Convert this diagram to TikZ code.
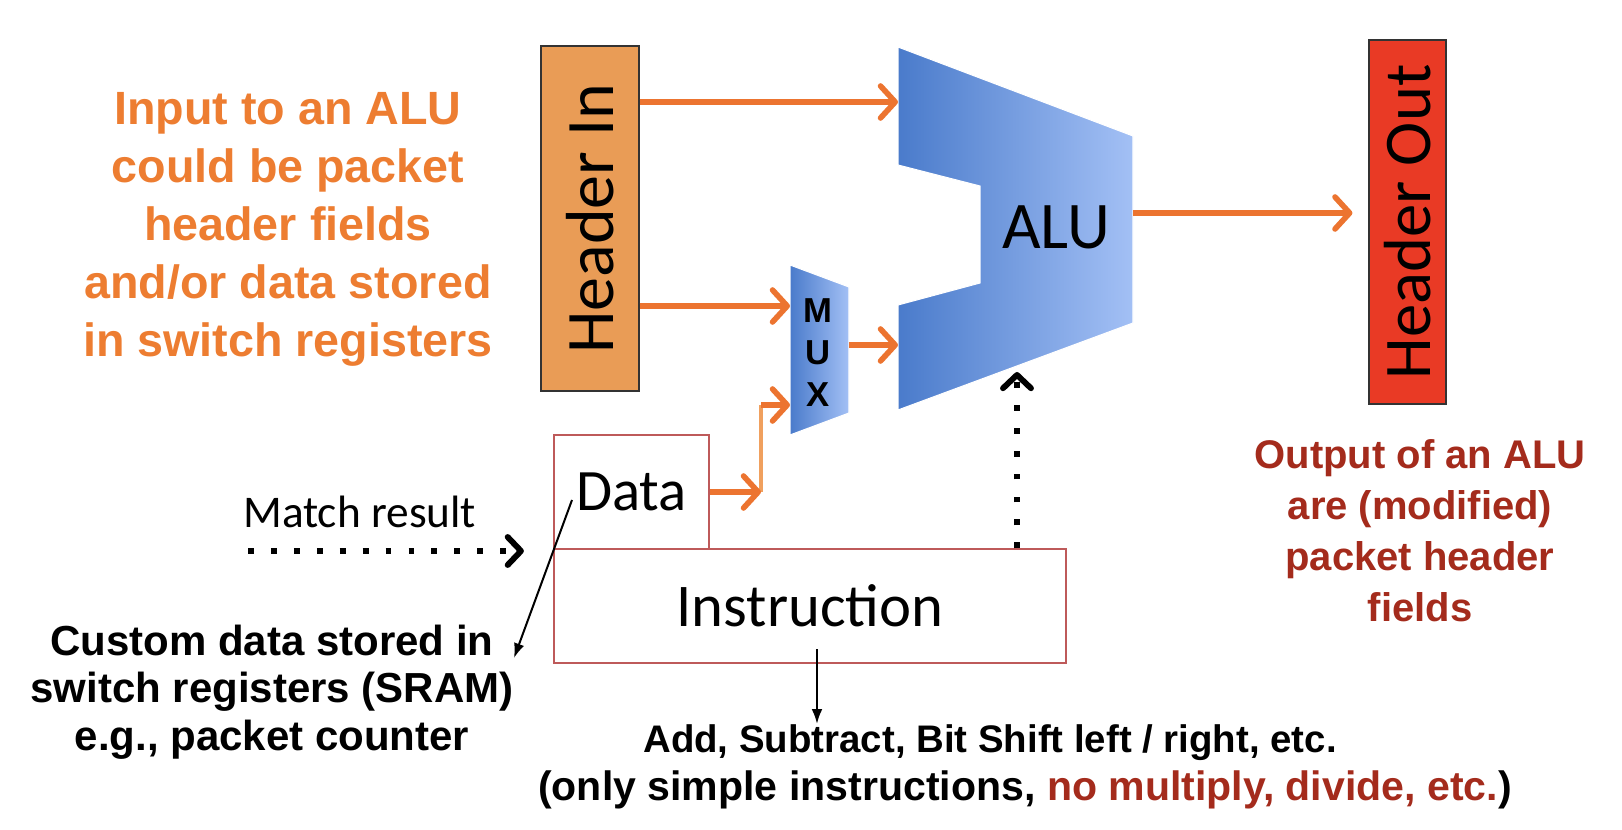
\documentclass[tikz,border=0pt]{standalone}
\usepackage{fontspec}
\setmainfont{Carlito}
\newfontfamily\hv{Liberation Sans}
\usetikzlibrary{arrows.meta,calc}
\definecolor{otxt}{HTML}{ED7D31}
\definecolor{oarrc}{HTML}{EC7430}
\definecolor{oltc}{HTML}{F0A05E}
\definecolor{hinfill}{HTML}{E99C56}
\definecolor{houtfill}{HTML}{E93A25}
\definecolor{rtxt}{HTML}{A42B1C}
\definecolor{boxb}{HTML}{BE5A5A}
\definecolor{aluL}{HTML}{4A7BCB}
\definecolor{aluR}{HTML}{A3C0F5}
\begin{document}
\begin{tikzpicture}[x=0.75pt,y=-0.75pt,
  oarr/.style={draw=oarrc, line width=4.2pt, -{Straight Barb[length=11pt,width=24pt,round]}},
  olt/.style={draw=oltc, line width=3.2pt},
  dotarr/.style={draw=black, line width=4.4pt, dash pattern=on 4.4pt off 12.8pt, -{Straight Barb[length=10pt,width=21pt,round]}},
  thinarr/.style={draw=black, line width=1.5pt, -{Latex[length=11pt,width=8pt]}},
  hdr/.style={draw=black!80, line width=0.8pt, inner sep=0pt},
  rbox/.style={draw=boxb, line width=1.1pt, fill=white, inner sep=0pt},
  hvtext/.style={inner sep=0pt, align=center}
]
\useasboundingbox (0,0) rectangle (1622,830);

% Header In / Out
\node[hdr, fill=hinfill, minimum width=73.5pt, minimum height=258.75pt] (hin) at (590,218.5) {};
\node[rotate=90, inner sep=0pt, font={\fontsize{51}{60}\selectfont}] (hinlbl) at (hin.center) {Header In};
\node[hdr, fill=houtfill, minimum width=57.75pt, minimum height=273pt] (hout) at (1407.5,222) {};
\node[rotate=90, inner sep=0pt, font={\fontsize{50}{60}\selectfont}] (houtlbl) at (hout.center) {Header Out};

% ALU
\shade[left color=aluL, right color=aluR, draw=white, line width=0.8pt]
  (898,47) -- (1133,136) -- (1133,323) -- (898,410) -- (898,305) -- (980,283) -- (980,186) -- (898,165) -- cycle;
\node[inner sep=0pt, font={\fontsize{50}{60}\selectfont}] (alulbl) at (1056,227) {ALU};

% MUX
\shade[left color=aluL, right color=aluR, draw=white, line width=0.8pt]
  (790,265) -- (849,287) -- (849,413) -- (790,435) -- cycle;
\node[hvtext, font={\hv\bfseries\fontsize{26}{31.5}\selectfont}] (muxlbl) at (818,353) {M\\U\\X};

% Data / Instruction
\node[rbox, minimum width=116.25pt, minimum height=85.5pt, font={\fontsize{44}{50}\selectfont}] (data) at (631.5,492) {Data};
\node[rbox, minimum width=384pt, minimum height=85.5pt, font={\fontsize{45.5}{50}\selectfont}] (instr) at (810,606) {Instruction};

% texts
\node[hvtext, anchor=base, text=otxt, font={\hv\bfseries\fontsize{35}{43.5}\selectfont}] (intxt) at (288,357)
  {Input to an ALU\\could be packet\\header fields\\and/or data stored\\in switch registers};
\node[hvtext, anchor=base, text=rtxt, font={\hv\bfseries\fontsize{30}{38.25}\selectfont}] (outtxt) at (1420,621)
  {Output of an ALU\\are (modified)\\packet header\\fields};
\node[hvtext, anchor=base, font={\hv\bfseries\fontsize{31.5}{35.6}\selectfont}] (custtxt) at (272,750)
  {Custom data stored in\\switch registers (SRAM)\\e.g., packet counter};
\node[hvtext, anchor=base, font={\hv\bfseries\fontsize{28.8}{36}\selectfont}] (optxt) at (990,752)
  {Add, Subtract, Bit Shift left / right, etc.};
\node[hvtext, anchor=base, font={\hv\bfseries\fontsize{30.8}{36}\selectfont}] (optxtb) at (1025,800)
  {(only simple instructions, \textcolor{rtxt}{no multiply, divide, etc.})};
\node[inner sep=0pt, anchor=base west, font={\fontsize{34}{40}\selectfont}] (match) at (243,528) {Match result};

% coordinates
\coordinate (aluIn1) at (898,102);
\coordinate (aluIn2) at (898,345);
\coordinate (muxIn1) at (790,306);
\coordinate (muxIn2) at (790,405);
\coordinate (muxOut) at (849,345);
\coordinate (aluOut) at (1133,213);
\coordinate (aluDot) at (1017,372);
\coordinate (dCorner) at (761,492);
\coordinate (uCorner) at (761,405);
\coordinate (mStart) at (248,551);
\coordinate (dPtr) at (572,500);
\coordinate (cTip) at (514,658);
\coordinate (iArr) at (817,649);

% connectors
\draw[oarr] (hin.east |- aluIn1) -- (aluIn1);
\draw[oarr] (hin.east |- muxIn1) -- (muxIn1);
\draw[oarr] (muxOut) -- (aluIn2);
\draw[olt] (dCorner) -- (uCorner);
\draw[oarr] (data.east) -- (dCorner);
\draw[oarr] (uCorner) -- (muxIn2);
\draw[oarr, shorten >=12pt] (aluOut) -- (hout.west |- aluOut);
\draw[dotarr] (instr.north -| aluDot) -- (aluDot);
\draw[dotarr, shorten >=22pt] (mStart) -- (mStart -| instr.west);
\draw[thinarr] (dPtr) -- (cTip);
\draw[thinarr] (iArr) -- (iArr |- optxt.north);
\end{tikzpicture}
\end{document}
